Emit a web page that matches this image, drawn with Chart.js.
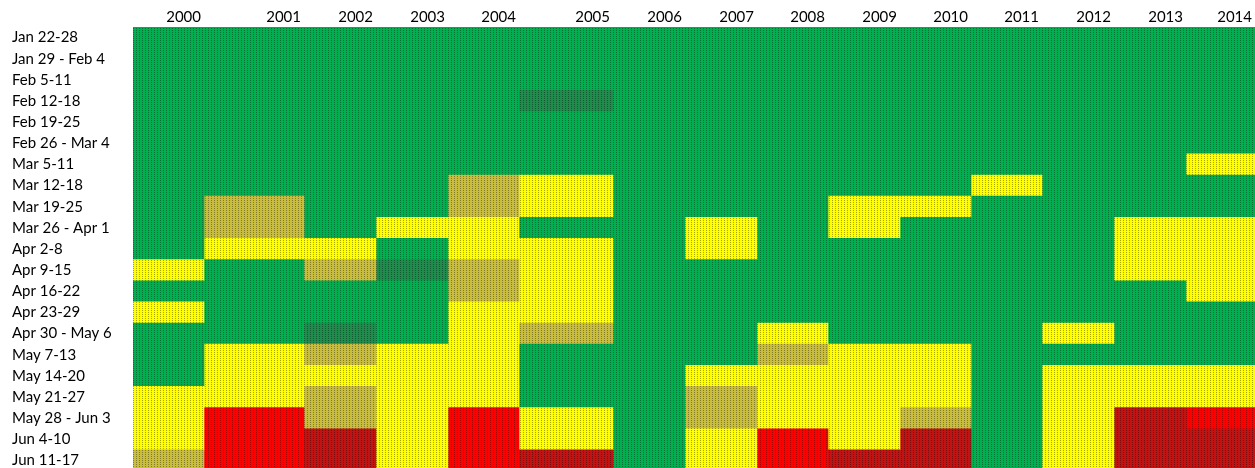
<!DOCTYPE html>
<html>
<head>
<meta charset="utf-8">
<script src="https://cdn.jsdelivr.net/npm/chart.js@4.4.0/dist/chart.umd.min.js"></script>
<style>
  html, body { margin: 0; padding: 0; background: #fff; overflow: hidden; }
  #wrap { position: relative; width: 1255px; height: 471px; }
</style>
</head>
<body>
<div id="wrap"><canvas id="heatmap"></canvas></div>
<script>
const weeks = [
  'Jan 22-28', 'Jan 29 - Feb 4', 'Feb 5-11', 'Feb 12-18', 'Feb 19-25',
  'Feb 26 - Mar 4', 'Mar 5-11', 'Mar 12-18', 'Mar 19-25', 'Mar 26 - Apr 1',
  'Apr 2-8', 'Apr 9-15', 'Apr 16-22', 'Apr 23-29', 'Apr 30 - May 6',
  'May 7-13', 'May 14-20', 'May 21-27', 'May 28 - Jun 3', 'Jun 4-10', 'Jun 11-17'
];

const years = [2000, 2001, 2002, 2003, 2004, 2005, 2006, 2007, 2008, 2009, 2010, 2011, 2012, 2013, 2014];

// one letter per week, top to bottom
// G green, g dark green, Y yellow, o dark yellow, R red, r dark red
const status2000 = 'GGGGGGGGGGGYGYGGGYYYo';
const status2001 = 'GGGGGGGGooYGGGGYYYRRR';
const status2002 = 'GGGGGGGGGGYoGGgoYoorr';
const status2003 = 'GGGGGGGGGYGgGGGYYYYYY';
const status2004 = 'GGGGGGGooYYooYYYYYRRR';
const status2005 = 'GGGgGGGYYGYYYYoGGGYYr';
const status2006 = 'GGGGGGGGGGGGGGGGGGGGG';
const status2007 = 'GGGGGGGGGYYGGGGGYooYY';
const status2008 = 'GGGGGGGGGGGGGGYoYYYRR';
const status2009 = 'GGGGGGGGYYGGGGGYYYYYr';
const status2010 = 'GGGGGGGGYGGGGGGYYYorr';
const status2011 = 'GGGGGGGYGGGGGGGGGGGGG';
const status2012 = 'GGGGGGGGGGGGGGYGYYYYY';
const status2013 = 'GGGGGGGGGYYYGGGGYYrrr';
const status2014 = 'GGGGGGYGGYYYYGGGYYRrr';

const statusByYear = [
  status2000, status2001, status2002, status2003, status2004,
  status2005, status2006, status2007, status2008, status2009,
  status2010, status2011, status2012, status2013, status2014
];

// spreadsheet column widths (layout only)
const colWidths = [71, 100, 72, 72, 71, 94, 72, 72, 71, 72, 71, 71, 72, 72, 69];

const edges = [0];
colWidths.forEach(w => edges.push(edges[edges.length - 1] + w));

function makeFill(color) {
  const tile = document.createElement('canvas');
  tile.width = 3;
  tile.height = 2;
  const t = tile.getContext('2d');
  t.fillStyle = color;
  t.fillRect(0, 0, 3, 2);
  t.fillStyle = 'rgba(0,0,0,0.35)';
  t.fillRect(1, 0, 1, 1);
  return t.createPattern(tile, 'repeat');
}

const fills = {
  G: makeFill('#00b050'),
  g: makeFill('#1d8c4c'),
  Y: makeFill('#ffff00'),
  o: makeFill('#c9bd3c'),
  R: makeFill('#ff0000'),
  r: makeFill('#c21212')
};

const datasets = years.map((year, i) => ({
  label: String(year),
  data: weeks.map(() => [edges[i], edges[i + 1]]),
  backgroundColor: statusByYear[i].split('').map(code => fills[code]),
  borderWidth: 0,
  barPercentage: 1,
  categoryPercentage: 1,
  grouped: false
}));

const font = { family: 'Lato', size: 15 };

new Chart(document.getElementById('heatmap'), {
  type: 'bar',
  data: { labels: weeks, datasets: datasets },
  options: {
    indexAxis: 'y',
    responsive: true,
    maintainAspectRatio: false,
    animation: false,
    layout: { padding: { left: 12, right: 0, top: 0, bottom: 0 } },
    plugins: {
      legend: { display: false },
      tooltip: { enabled: false }
    },
    scales: {
      x: {
        type: 'linear',
        position: 'top',
        min: 0,
        max: edges[edges.length - 1],
        grid: { display: false, drawTicks: false },
        border: { display: false },
        afterBuildTicks: scale => {
          scale.ticks = years.map((y, i) => ({ value: edges[i + 1] - 3 }));
        },
        afterFit: scale => {
          scale.height = 27;
          scale.paddingLeft = 0;
          scale.paddingRight = 0;
        },
        ticks: {
          autoSkip: false,
          maxRotation: 0,
          align: 'end',
          padding: 1,
          color: '#000',
          font: font,
          callback: (value, index) => String(years[index])
        }
      },
      y: {
        type: 'category',
        grid: { display: false, drawTicks: false },
        border: { display: false },
        afterFit: scale => {
          scale.width = 121;
          scale.paddingTop = 0;
          scale.paddingBottom = 0;
        },
        ticks: {
          crossAlign: 'far',
          autoSkip: false,
          color: '#000',
          font: font
        }
      }
    }
  }
});
</script>
</body>
</html>
